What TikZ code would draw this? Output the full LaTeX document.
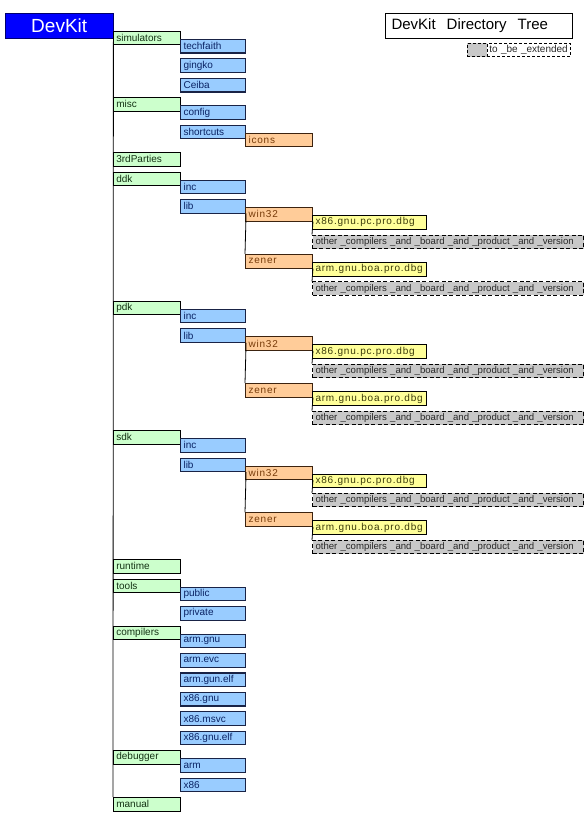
\documentclass[tikz,border=0pt]{standalone}
\usepackage{fontspec}
\setmainfont{Liberation Sans}
\newfontfamily\spacedfont[LetterSpace=8]{Liberation Sans}

\definecolor{devblue}{RGB}{0,0,255}
\definecolor{devline}{RGB}{0,0,110}
\definecolor{grnfill}{RGB}{204,255,204}
\definecolor{grntext}{RGB}{20,50,20}
\definecolor{blufill}{RGB}{153,204,255}
\definecolor{bluline}{RGB}{25,35,70}
\definecolor{blutext}{RGB}{10,35,100}
\definecolor{orgfill}{RGB}{255,204,153}
\definecolor{orgline}{RGB}{60,35,15}
\definecolor{orgtext}{RGB}{120,60,10}
\definecolor{yelfill}{RGB}{255,255,153}
\definecolor{yeltext}{RGB}{60,60,10}
\definecolor{extfill}{RGB}{200,200,200}
\definecolor{exttext}{RGB}{40,40,40}

\begin{document}
\begin{tikzpicture}[x=1pt, y=-1pt,
        box/.style={draw, anchor=north west, minimum height=13.5pt, inner xsep=3pt, inner ysep=0pt, align=left, font=\fontsize{10}{12}\selectfont},
        dirtop/.style={box, fill=grnfill, text=grntext, text width=61pt, line width=0.7pt},
        dirsub/.style={box, fill=blufill, draw=bluline, text=blutext, text width=59pt, line width=1.1pt},
        dirplat/.style={box, fill=orgfill, draw=orgline, text=orgtext, text width=61pt, line width=1pt, font=\spacedfont\fontsize{10}{12}\selectfont},
        dirver/.style={box, fill=yelfill, text=yeltext, text width=108pt, line width=1pt, font=\spacedfont\fontsize{10}{12}\selectfont},
        dirext/.style={box, fill=extfill, text=exttext, text width=265pt, line width=1pt, dash pattern=on 4pt off 2.5pt, font=\fontsize{9.6}{11}\selectfont},
        branch/.style={line width=0.8pt}]
    \useasboundingbox (0,0) rectangle (584,816);

    % title and legend
    \node[draw=devline, fill=devblue, text=white, anchor=north west, minimum width=108pt, minimum height=25pt, inner sep=0pt, font=\fontsize{19}{22}\selectfont] (devkit) at (5,13) {DevKit};
    \node[draw, anchor=north west, minimum height=25pt, text width=175pt, inner xsep=6pt, inner ysep=0pt, align=left, line width=1pt, font=\fontsize{15}{17}\selectfont] (title) at (385,13) {\spaceskip=11pt DevKit Directory Tree};
    \node[box, fill=extfill, minimum width=20pt, dash pattern=on 3pt off 2pt, line width=0.8pt] (key) at (467,43) {};
    \node[box, text width=79pt, inner xsep=2pt, dash pattern=on 3pt off 2pt, line width=0.8pt, text=exttext] (legend) at (487,43) {\mbox{to \_be \_extended}};

    % simulators, misc
    \node[dirtop] (sim) at (113,31) {simulators};
    \node[dirsub] (tech) at (180,39) {techfaith};
    \node[dirsub] (gingko) at (180,58.4) {gingko};
    \node[dirsub] (ceiba) at (180,77.9) {Ceiba};
    \node[dirtop] (misc) at (113,97.3) {misc};
    \node[dirsub] (config) at (180,105.3) {config};
    \node[dirsub] (shortcuts) at (180,124.8) {shortcuts};
    \node[dirplat] (icons) at (245,132.8) {icons};
    \node[dirtop] (third) at (113,152.2) {3rdParties};

    % ddk
    \node[dirtop] (ddk) at (113,171.6) {ddk};
    \node[dirsub] (ddkinc) at (180,179.6) {inc};
    \node[dirsub] (ddklib) at (180,199.1) {lib};
    \node[dirplat] (ddkwin) at (245,207.1) {win32};
    \node[dirver] (ddkwinx) at (312,215.1) {x86.gnu.pc.pro.dbg};
    \node[dirext] (ddkwino) at (312,234.5) {\mbox{other \_compilers \_and \_board \_and \_product \_and \_version}};
    \node[dirplat] (ddkzen) at (245,254) {zener};
    \node[dirver] (ddkzena) at (312,262) {arm.gnu.boa.pro.dbg};
    \node[dirext] (ddkzeno) at (312,281.4) {\mbox{other \_compilers \_and \_board \_and \_product \_and \_version}};

    % pdk
    \node[dirtop] (pdk) at (113,300.8) {pdk};
    \node[dirsub] (pdkinc) at (180,308.8) {inc};
    \node[dirsub] (pdklib) at (180,328.3) {lib};
    \node[dirplat] (pdkwin) at (245,336.3) {win32};
    \node[dirver] (pdkwinx) at (312,344.3) {x86.gnu.pc.pro.dbg};
    \node[dirext] (pdkwino) at (312,363.7) {\mbox{other \_compilers \_and \_board \_and \_product \_and \_version}};
    \node[dirplat] (pdkzen) at (245,383.2) {zener};
    \node[dirver] (pdkzena) at (312,391.2) {arm.gnu.boa.pro.dbg};
    \node[dirext] (pdkzeno) at (312,410.6) {\mbox{other \_compilers \_and \_board \_and \_product \_and \_version}};

    % sdk
    \node[dirtop] (sdk) at (113,430) {sdk};
    \node[dirsub] (sdkinc) at (180,438) {inc};
    \node[dirsub] (sdklib) at (180,457.5) {lib};
    \node[dirplat] (sdkwin) at (245,465.5) {win32};
    \node[dirver] (sdkwinx) at (312,473.5) {x86.gnu.pc.pro.dbg};
    \node[dirext] (sdkwino) at (312,492.9) {\mbox{other \_compilers \_and \_board \_and \_product \_and \_version}};
    \node[dirplat] (sdkzen) at (245,512.4) {zener};
    \node[dirver] (sdkzena) at (312,520.4) {arm.gnu.boa.pro.dbg};
    \node[dirext] (sdkzeno) at (312,539.8) {\mbox{other \_compilers \_and \_board \_and \_product \_and \_version}};

    % runtime, tools, compilers, debugger, manual
    \node[dirtop] (runtime) at (113,559.2) {runtime};
    \node[dirtop] (tools) at (113,578.7) {tools};
    \node[dirsub] (public) at (180,586.7) {public};
    \node[dirsub] (private) at (180,606.1) {private};
    \node[dirtop] (compilers) at (113,625.6) {compilers};
    \node[dirsub] (armgnu) at (180,633.6) {arm.gnu};
    \node[dirsub] (armevc) at (180,653) {arm.evc};
    \node[dirsub] (armgunelf) at (180,672.4) {arm.gun.elf};
    \node[dirsub] (xgnu) at (180,691.9) {x86.gnu};
    \node[dirsub] (xmsvc) at (180,711.3) {x86.msvc};
    \node[dirsub] (xgnuelf) at (180,730.8) {x86.gnu.elf};
    \node[dirtop] (debugger) at (113,750.2) {debugger};
    \node[dirsub] (dbgarm) at (180,758.2) {arm};
    \node[dirsub] (dbgx) at (180,777.6) {x86};
    \node[dirtop] (manual) at (113,797.1) {manual};

    % branches
    \draw[branch] (devkit.south east) -- (manual.north west);
    \draw[branch] (ddklib.south east) -- (ddkzen.north west);
    \draw[branch] (ddkwin.south east) -- (ddkwino.north west);
    \draw[branch] (ddkzen.south east) -- (ddkzeno.north west);
    \draw[branch] (pdklib.south east) -- (pdkzen.north west);
    \draw[branch] (pdkwin.south east) -- (pdkwino.north west);
    \draw[branch] (pdkzen.south east) -- (pdkzeno.north west);
    \draw[branch] (sdklib.south east) -- (sdkzen.north west);
    \draw[branch] (sdkwin.south east) -- (sdkwino.north west);
    \draw[branch] (sdkzen.south east) -- (sdkzeno.north west);
\end{tikzpicture}
\end{document}
